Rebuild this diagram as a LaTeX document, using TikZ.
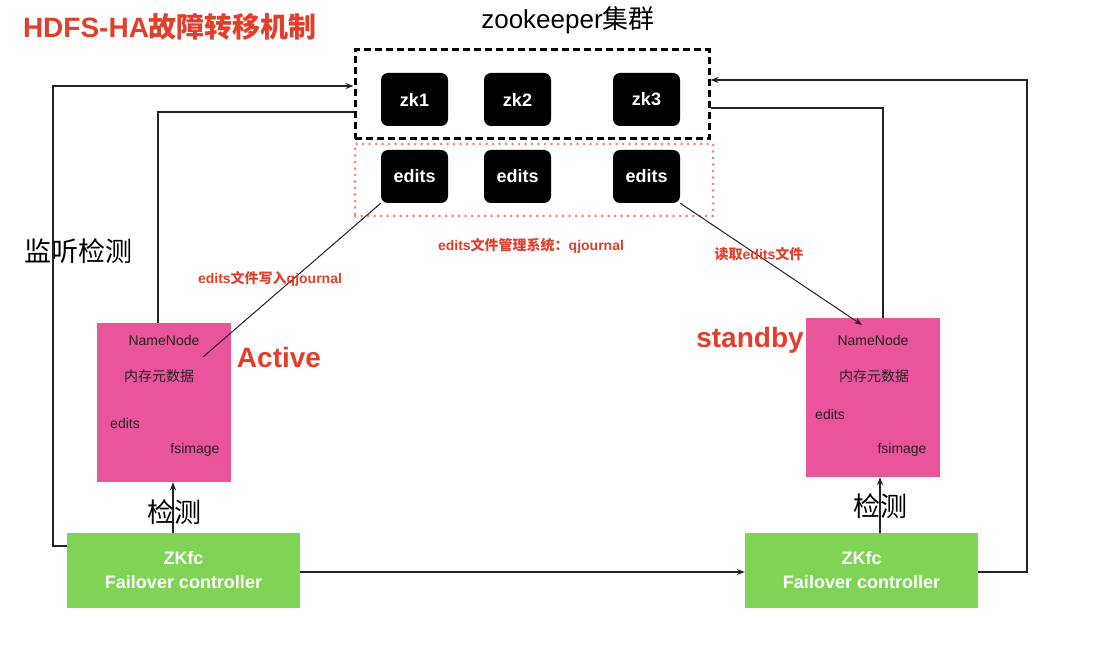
\documentclass[tikz,border=0pt]{standalone}
\usepackage{fontspec}
\setmainfont{Liberation Sans}
\newfontfamily\cjk{Noto Sans CJK SC}
\usepackage{tikz}
\usetikzlibrary{arrows.meta, positioning}
\definecolor{hared}{RGB}{226,62,44}
\definecolor{nnpink}{RGB}{234,84,155}
\definecolor{fcgreen}{RGB}{128,212,85}
\definecolor{dotred}{RGB}{242,135,125}
\definecolor{inkgray}{RGB}{35,35,35}

\begin{document}
\begin{tikzpicture}[
  x=1pt, y=-1pt,
  zkbox/.style={rectangle, rounded corners=7pt, fill=black, text=white, minimum width=67pt, minimum height=53pt, inner sep=0pt, font=\fontsize{18}{20}\selectfont\bfseries},
  nnbox/.style={rectangle, fill=nnpink, minimum width=134pt, minimum height=159pt, inner sep=0pt},
  fcbox/.style={rectangle, fill=fcgreen, text=white, minimum width=233pt, minimum height=75pt, align=center, font=\fontsize{18}{24}\selectfont\bfseries},
  nntext/.style={text=inkgray, inner sep=0pt, font=\fontsize{14}{16}\selectfont},
  redlabel/.style={text=hared, inner sep=0pt, font=\fontsize{14}{16}\selectfont\bfseries},
  rolelabel/.style={text=hared, inner sep=0pt, font=\fontsize{28}{32}\selectfont\bfseries},
  cjkbig/.style={inner sep=0pt, font=\cjk\fontsize{27}{30}\selectfont},
  arrow/.style={-{Stealth[length=8pt, width=6pt]}, line width=1.2pt, inkgray},
  link/.style={line width=1.2pt, inkgray},
]
\useasboundingbox (0,0) rectangle (1118,660);

% Title
\node[text=hared, inner sep=0pt, font=\fontsize{28}{32}\selectfont\bfseries] (title) at (170,27) {HDFS-HA{\cjk 故障转移机制}};
\node[inner sep=0pt, font=\fontsize{26}{30}\selectfont] (zktitle) at (568,20) {zookeeper{\cjk 集群}};

% Zookeeper cluster
\node[draw, line width=3pt, dash pattern=on 7pt off 4pt, minimum width=354pt, minimum height=89pt] (cluster) at (532,94.5) {};
\node[zkbox] (zk1) at (414.5,99.5) {zk1};
\node[zkbox] (zk2) at (517.5,99.5) {zk2};
\node[zkbox] (zk3) at (646.5,99.5) {zk3};

% Journal nodes
\node[draw=dotred, line width=3pt, line cap=round, dash pattern=on 0pt off 6.5pt, minimum width=358pt, minimum height=72pt] (journal) at (534,180) {};
\node[zkbox] (ed1) at (414.5,176.5) {edits};
\node[zkbox] (ed2) at (517.5,176.5) {edits};
\node[zkbox] (ed3) at (646.5,176.5) {edits};
\node[redlabel] (jlabel) at (531,246) {edits{\cjk 文件管理系统：}qjournal};

% Active NameNode
\node[nnbox] (nnL) at (164,402.5) {};
\node[nntext] (nnLname) at (164,340) {NameNode};
\node[nntext] (nnLmeta) at (159,376) {\cjk 内存元数据};
\node[nntext] (nnLedits) at (125,423) {edits};
\node[nntext] (nnLimage) at (195,450) {fsimage};
\node[rolelabel] (active) at (279,357) {Active};

% Standby NameNode
\node[nnbox] (nnR) at (873,397.5) {};
\node[nntext] (nnRname) at (873,340) {NameNode};
\node[nntext] (nnRmeta) at (874,376) {\cjk 内存元数据};
\node[nntext] (nnRedits) at (830,414) {edits};
\node[nntext] (nnRimage) at (902,450) {fsimage};
\node[rolelabel] (standby) at (750,340) {standby};

% ZKfc
\node[fcbox] (fcL) at (183.5,570.5) {ZKfc\\Failover controller};
\node[fcbox] (fcR) at (861.5,570.5) {ZKfc\\Failover controller};
\node[cjkbig] (chkL) at (174,512) {检测};
\node[cjkbig] (chkR) at (880,506) {检测};
\node[cjkbig] (listen) at (78,251) {监听检测};

% Detect arrows
\draw[arrow] (fcL.north -| 173,0) -- (nnL.south -| 173,0);
\draw[arrow] (fcR.north -| 880,0) -- (nnR.south -| 880,0);

% Loops to zookeeper
\coordinate (lpL) at (53,546);
\coordinate (lpR) at (1027,572);
\draw[arrow] (fcL.west |- lpL) -- (lpL) |- (cluster.west |- 0,86);
\draw[arrow] (fcR.east |- lpR) -- (lpR) |- (cluster.east |- 0,80);
\draw[link] (nnL.north -| 158,0) |- (cluster.west |- 0,112);
\draw[link] (nnR.north -| 883,0) |- (cluster.east |- 0,108);
\draw[arrow] (fcL.east |- 0,572) -- (fcR.west |- 0,572);

% Edits read / write
\coordinate (wrL) at (203,357);
\coordinate (rdR) at (862,325);
\draw[link, line width=1pt] (ed1.south west) -- (wrL);
\draw[arrow, line width=1pt] (ed3.south east) -- (rdR);
\node[redlabel] (wlabel) at (270,279) {edits{\cjk 文件写入}qjournal};
\node[redlabel] (rlabel) at (759,254) {{\cjk 读取}edits{\cjk 文件}};

\end{tikzpicture}
\end{document}
